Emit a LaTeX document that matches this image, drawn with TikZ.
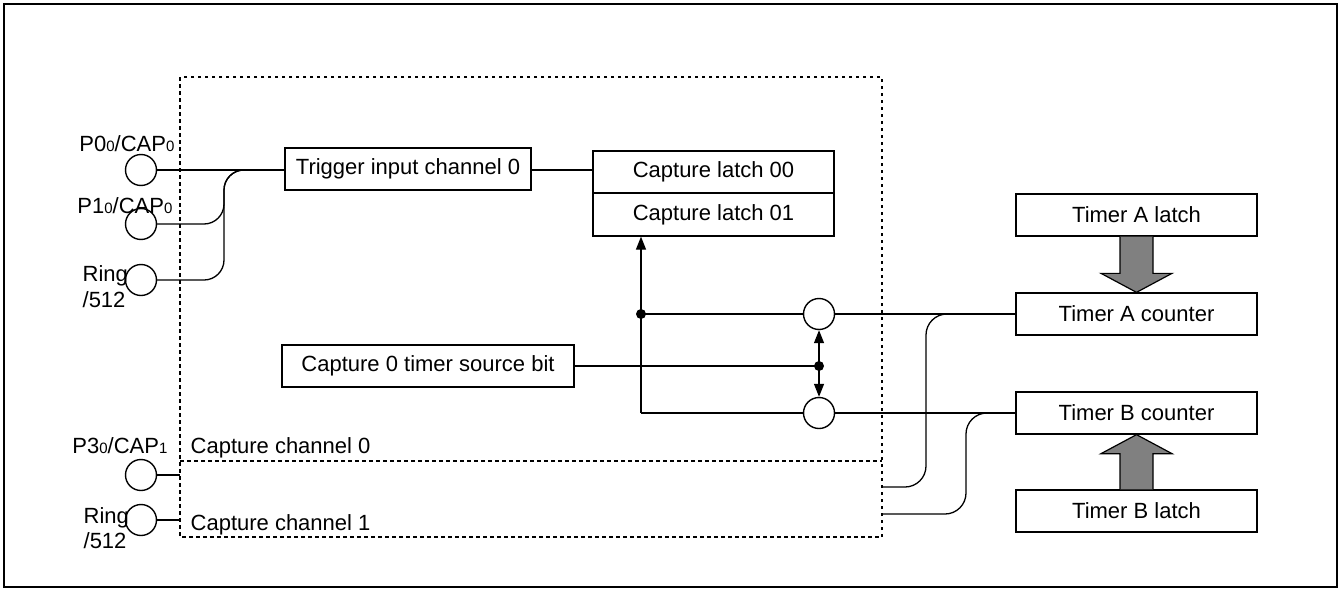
\documentclass[tikz,border=0pt]{standalone}
\usepackage{fontspec}
\setmainfont{Liberation Sans}
\usetikzlibrary{arrows.meta,calc}
\newcommand{\sdg}[1]{{\fontsize{15}{15}\selectfont #1}}
\begin{document}
\begin{tikzpicture}[x=1pt,y=-1pt,
  font=\fontsize{22}{26}\selectfont,
  line width=1.3pt,
  boxs/.style={draw,line width=1.3pt,inner sep=0pt,minimum height=42pt},
  circ/.style={draw,circle,line width=1.4pt,minimum size=31pt,inner sep=0pt},
  lbl/.style={inner sep=0pt},
  arr/.style={-{Triangle[length=13pt,width=10pt]}},
  blk/.style={fill={rgb,255:red,128;green,128;blue,128},draw=black,line width=1.2pt},
  dotbox/.style={dash pattern=on 3.5pt off 3.5pt,line width=1.3pt}]
\useasboundingbox (0,0) rectangle (1343,589);
% outer frame
\draw[line width=2pt] (4,4) rectangle (1337,586.5);
% capture region
\draw[dotbox] (180,77) rectangle (882,537);
\draw[dotbox] (180,461) -- (882,461);
% left input circles
\node[circ] (c0) at (141,170) {};
\node[circ] (c1) at (141,224) {};
\node[circ] (c2) at (141,280) {};
\node[circ] (c3) at (141,475) {};
\node[circ] (c4) at (141,520) {};
\node[lbl,anchor=base east] (l0) at (175,151) {P0\sdg{0}/CAP\sdg{0}};
\node[lbl,anchor=base east] (l1) at (173,213) {P1\sdg{0}/CAP\sdg{0}};
\node[lbl,anchor=base west] (l2a) at (82,281) {Ring};
\node[lbl,anchor=base west] (l2b) at (82,307) {/512};
\node[lbl,anchor=base east] (l3) at (168,453) {P3\sdg{0}/CAP\sdg{1}};
\node[lbl,anchor=base west] (l4a) at (83,523) {Ring};
\node[lbl,anchor=base west] (l4b) at (83,548) {/512};
\node[lbl,anchor=base west] (ch0) at (190,453) {Capture channel 0};
\node[lbl,anchor=base west] (ch1) at (190,530) {Capture channel 1};
% blocks
\node[boxs,minimum width=246pt] (trig) at (408,169) {Trigger input channel 0};
\node[boxs,minimum width=241pt] (lat0) at (713.5,172) {Capture latch 00};
\node[boxs,minimum width=241pt,minimum height=43pt] (lat1) at (713.5,214.5) {Capture latch 01};
\node[boxs,minimum width=292pt] (src) at (428,366) {Capture 0 timer source bit};
\node[boxs,minimum width=241pt] (tal) at (1136.5,215) {Timer A latch};
\node[boxs,minimum width=241pt] (tac) at (1136.5,314) {Timer A counter};
\node[boxs,minimum width=241pt] (tbc) at (1136.5,413) {Timer B counter};
\node[boxs,minimum width=241pt] (tbl) at (1136.5,511) {Timer B latch};
\node[circ] (ra) at (819,314) {};
\node[circ] (rb) at (819,413) {};
% helper coordinates
\coordinate (jx) at (224,170);
\coordinate (boxL) at (180,0);
\coordinate (dA) at (641,314);
\coordinate (bA) at (641,413);
\coordinate (dB) at (819,366);
\coordinate (sA) at (882,487);
\coordinate (sB) at (882,514);
\coordinate (vA) at (926,0);
\coordinate (vB) at (966,0);
% input connections
\draw (c0.east) -- (c0.east -| trig.west);
\draw[rounded corners=20pt] (c1.east) -- (c1.east -| jx) -- (jx) -- ++(40,0);
\draw[rounded corners=20pt] (c2.east) -- (c2.east -| jx) -- (jx) -- ++(40,0);
\draw (trig.east |- c0.east) -- (c0.east -| lat0.west);
\draw (c3.east) -- (c3.east -| boxL);
\draw (c4.east) -- (c4.east -| boxL);
% capture timer selection
\draw[arr] (bA) -- (bA |- lat1.south);
\draw (dA) -- (ra.west);
\draw (bA) -- (rb.west);
\fill (dA) circle (5);
\draw (src.east) -- (dB);
\fill (dB) circle (5);
\draw[arr] (dB) -- (ra.south);
\draw[arr] (dB) -- (rb.north);
\draw (ra.east) -- (ra.east -| tac.west);
\draw (rb.east) -- (rb.east -| tbc.west);
% channel 1 connections
\draw[rounded corners=21pt] (sA) -- (sA -| vA) -- (vA |- ra) -- ++(44,0);
\draw[rounded corners=21pt] (sB) -- (sB -| vB) -- (vB |- rb) -- ++(44,0);
% block arrows
\draw[blk] ($(tal.south)+(-16.5,0)$) -- ($(tac.north)+(-16.5,-19)$) -- ($(tac.north)+(-35.5,-19)$) -- (tac.north) -- ($(tac.north)+(35.5,-19)$) -- ($(tac.north)+(16.5,-19)$) -- ($(tal.south)+(16.5,0)$);
\draw[blk] ($(tbl.north)+(-16.5,0)$) -- ($(tbc.south)+(-16.5,19)$) -- ($(tbc.south)+(-35.5,19)$) -- (tbc.south) -- ($(tbc.south)+(35.5,19)$) -- ($(tbc.south)+(16.5,19)$) -- ($(tbl.north)+(16.5,0)$);
\end{tikzpicture}
\end{document}
